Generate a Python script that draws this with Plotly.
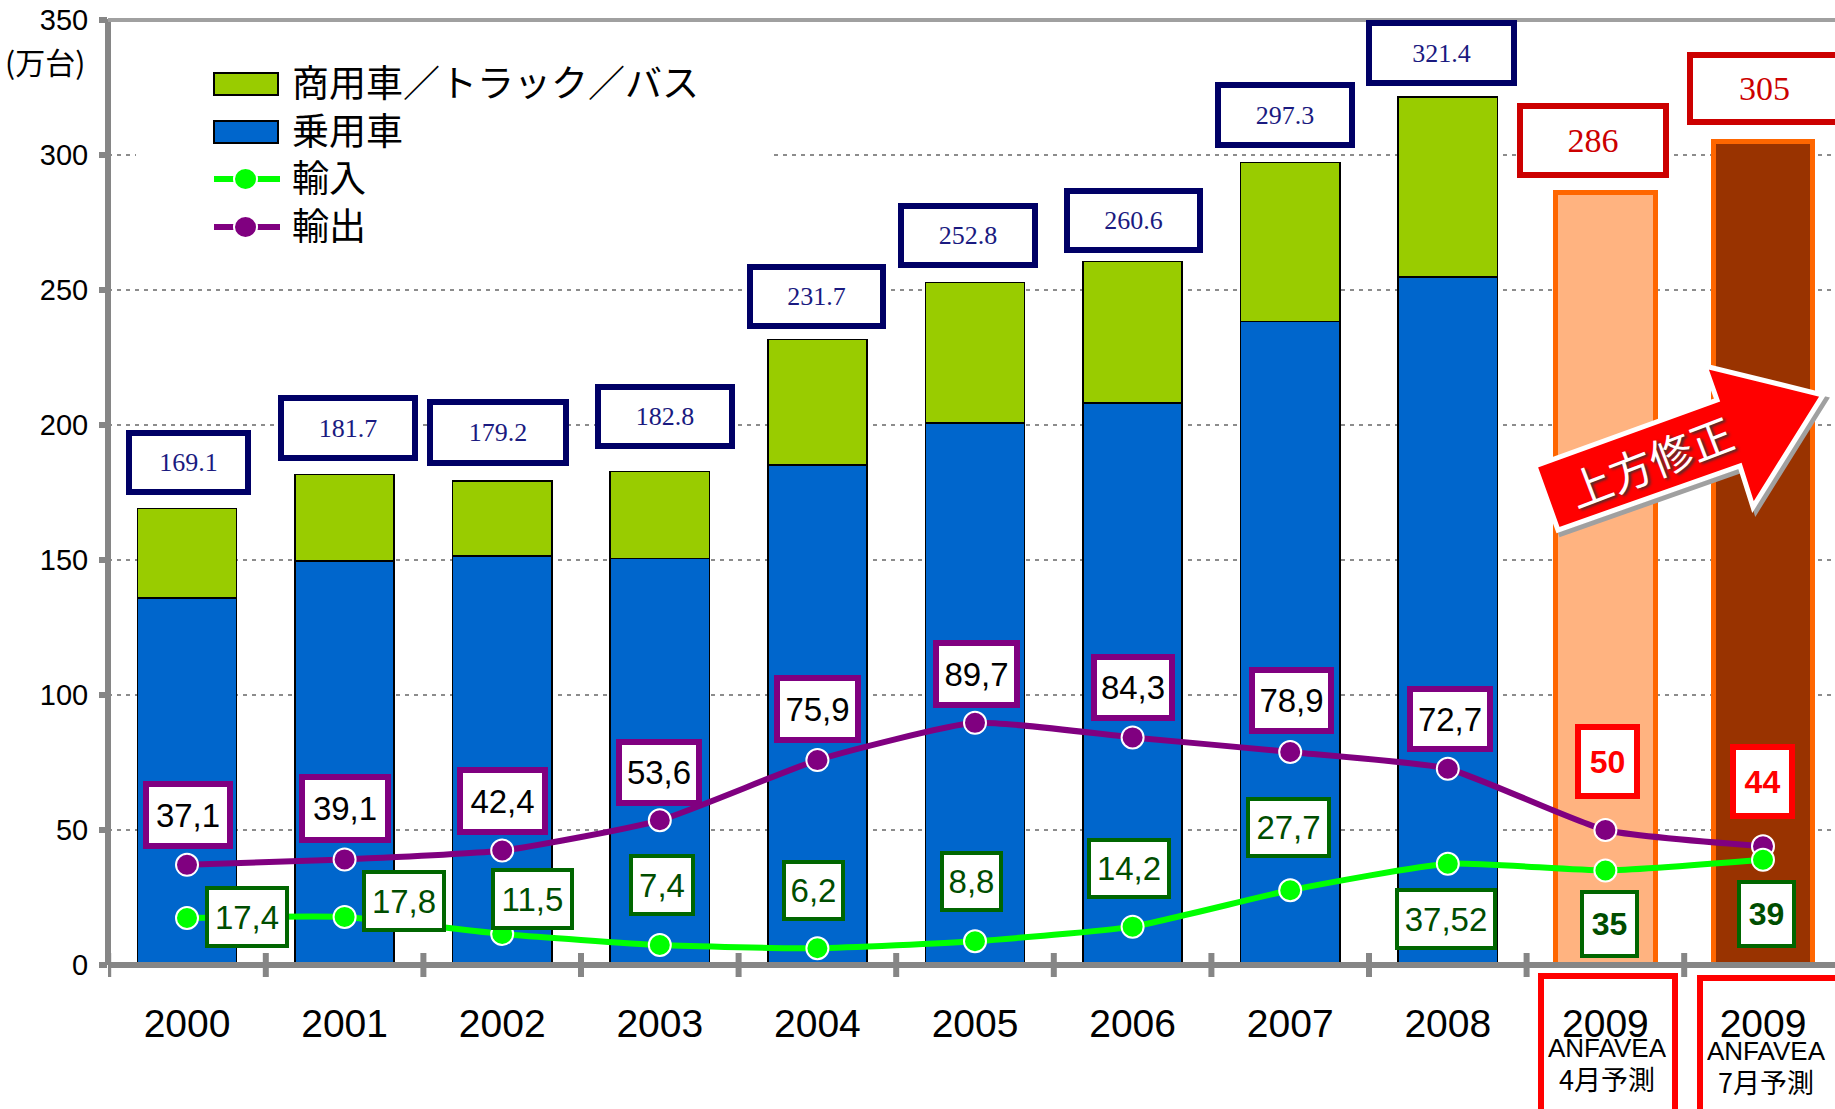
import plotly.graph_objects as go

# ---------- data ----------
categories = ["2000", "2001", "2002", "2003", "2004", "2005", "2006", "2007", "2008", "2009", "2009"]
commercial = [33.2, 32.0, 27.8, 32.2, 46.5, 52.0, 52.5, 58.9, 66.5]
passenger = [135.9, 149.7, 151.4, 150.6, 185.2, 200.8, 208.1, 238.4, 254.9]
forecast_april = [286]
forecast_july = [305]
imports = [17.4, 17.8, 11.5, 7.4, 6.2, 8.8, 14.2, 27.7, 37.52, 35, 39]
exports = [37.1, 39.1, 42.4, 53.6, 75.9, 89.7, 84.3, 78.9, 72.7, 50, 44]
total_labels = ["169.1", "181.7", "179.2", "182.8", "231.7", "252.8", "260.6", "297.3", "321.4"]
forecast_labels = ["286", "305"]
import_labels = ["17,4", "17,8", "11,5", "7,4", "6,2", "8,8", "14,2", "27,7", "37,52", "35", "39"]
export_labels = ["37,1", "39,1", "42,4", "53,6", "75,9", "89,7", "84,3", "78,9", "72,7", "50", "44"]
legend_labels = ["商用車／トラック／バス", "乗用車", "輸入", "輸出"]
unit_label = "(万台)"
arrow_label = "上方修正"
forecast_notes = ["ANFAVEA", "4月予測", "7月予測"]

# ---------- layout constants (pixels in the 1835x1109 page) ----------
W, H = 1835, 1109
L, T, B = 108, 20, 965
PW, PH = W - L, B - T
STEP = 157.6
C0 = 187
SANS = "Liberation Sans, Arial, sans-serif"
SERIF = "Liberation Serif, Times New Roman, serif"
CJK = "Noto Sans CJK JP, sans-serif"
GREY = "#868686"


def px(x):
    return (x - L) / PW


def py(y):
    return (B - y) / PH


total_boxes = [(126, 251, 430, 495), (278, 418, 395, 461), (427, 569, 399, 466), (595, 735, 384, 449),
               (747, 886, 264, 329), (898, 1038, 203, 268), (1064, 1203, 188, 253), (1215, 1355, 82, 148),
               (1366, 1517, 20, 86)]
forecast_boxes = [(1517, 1669, 103, 178), (1687, 1842, 52, 125)]
export_boxes = [(143, 233, 781, 849), (299, 391, 774, 843), (457, 548, 767, 835), (616, 702, 739, 806),
                (774, 861, 675, 743), (933, 1020, 640, 708), (1091, 1175, 654, 721), (1249, 1334, 667, 734),
                (1407, 1493, 686, 752), (1575, 1640, 724, 799), (1730, 1795, 744, 819)]
import_boxes = [(205, 289, 886, 948), (362, 446, 870, 932), (491, 574, 868, 930), (629, 695, 854, 916),
                (782, 845, 860, 921), (940, 1003, 851, 912), (1087, 1171, 838, 899), (1246, 1331, 797, 858),
                (1395, 1497, 888, 950), (1580, 1639, 890, 958), (1737, 1796, 880, 948)]

annotations = []


def box(b, text, border, color, size, bw=5, family=SANS, bold=False):
    x0, x1, y0, y1 = b
    annotations.append(dict(
        xref="paper", yref="paper", x=px((x0 + x1) / 2), y=py((y0 + y1) / 2),
        xanchor="center", yanchor="middle", align="center", valign="middle",
        width=x1 - x0 - 2 * bw, height=y1 - y0 - 2 * bw, borderpad=0, borderwidth=bw,
        bordercolor=border, bgcolor="white", showarrow=False,
        text=f"<b>{text}</b>" if bold else text,
        font=dict(family=family, size=size, color=color)))


def label(x, y, text, size, family=CJK, color="black", **kw):
    annotations.append(dict(xref="paper", yref="paper", x=px(x), y=py(y), xanchor=kw.pop("xanchor", "center"),
                            yanchor="middle", showarrow=False, text=text,
                            font=dict(family=family, size=size, color=color, **kw.pop("font", {})), **kw))


for b, t in zip(total_boxes, total_labels):
    box(b, t, "#000066", "#1A1A80", 26, bw=6, family=SERIF)
for b, t in zip(forecast_boxes, forecast_labels):
    box(b, t, "#CC0000", "#CC0000", 34, bw=6, family=SERIF)
for i, (b, t) in enumerate(zip(export_boxes, export_labels)):
    fc = i >= 9
    box(b, t, "#FF0000" if fc else "#800080", "#FF0000" if fc else "black", 32 if fc else 33, bw=6, bold=fc)
for i, (b, t) in enumerate(zip(import_boxes, import_labels)):
    fc = i >= 9
    box(b, t, "#006600", "#004D00", 32 if fc else 33, bw=4, bold=fc)

label(45, 61, unit_label, 30)
label(1607, 1048, forecast_notes[0], 26, family=SANS, height=26)
label(1607, 1078, forecast_notes[1], 27, height=30)
label(1766, 1051, forecast_notes[0], 26, family=SANS, height=26)
label(1766, 1081, forecast_notes[2], 27, height=30)
for y, t in zip([81, 129, 176, 224], legend_labels):
    label(290, y, t, 37, xanchor="left", height=44)
label(1650, 460, arrow_label, 43, color="white", textangle=-21, font=dict(shadow="2px 2px 3px #333333"))

# ---------- shapes ----------
shapes = [dict(type="rect", xref="x", yref="y", x0=(136 - C0) / STEP, x1=(770 - C0) / STEP, y0=280, y1=320,
               fillcolor="white", line_width=0, layer="between")]
for i in range(len(categories)):
    shapes.append(dict(type="line", xref="x", yref="paper", x0=i - 0.5, x1=i - 0.5, y0=py(953), y1=py(977),
                       line=dict(color=GREY, width=6), layer="above"))
shapes += [
    dict(type="line", xref="paper", yref="paper", x0=0, x1=1, y0=0, y1=0, line=dict(color=GREY, width=6), layer="above"),
    dict(type="line", xref="paper", yref="paper", x0=0, x1=0, y0=py(965), y1=py(19), line=dict(color=GREY, width=6), layer="above"),
    dict(type="line", xref="paper", yref="paper", x0=0, x1=1, y0=1, y1=1, line=dict(color="#A0A0A0", width=4), layer="above"),
]
for b in [(1541, 1675, 976, 1125), (1700, 1845, 978, 1125)]:
    shapes.append(dict(type="rect", xref="paper", yref="paper", x0=px(b[0]), x1=px(b[1]), y0=py(b[2]), y1=py(b[3]),
                       line=dict(color="#FF0000", width=6), fillcolor="rgba(0,0,0,0)", layer="above"))
# legend swatches
for y, c in zip([84, 132], ["#99CC00", "#0066CC"]):
    shapes.append(dict(type="rect", xref="paper", yref="paper", x0=px(214), x1=px(278), y0=py(y - 11), y1=py(y + 11),
                       fillcolor=c, line=dict(color="black", width=2), layer="above"))
for y, c in zip([179, 227], ["#00FF00", "#800080"]):
    shapes.append(dict(type="line", xref="paper", yref="paper", x0=px(214), x1=px(280), y0=py(y), y1=py(y),
                       line=dict(color=c, width=6), layer="above"))
    shapes.append(dict(type="circle", xref="paper", yref="paper", x0=px(234), x1=px(257), y0=py(y - 11), y1=py(y + 11),
                       fillcolor=c, line=dict(color="white", width=2), layer="above"))

# arrow outline
arrow = [(1535, 466), (1558, 530), (1740, 466), (1753, 507), (1823, 395), (1705, 366), (1717, 400)]


def path(points, dx=0, dy=0):
    return "M" + " L".join(f"{px(x + dx):.5f},{py(y + dy):.5f}" for x, y in points) + " Z"


shapes.append(dict(type="path", xref="paper", yref="paper", path=path(arrow, 3, 4), fillcolor="#808080",
                   line=dict(color="#A0A0A0", width=5), layer="above"))
shapes.append(dict(type="path", xref="paper", yref="paper", path=path(arrow), fillcolor="#FF0000",
                   line=dict(color="white", width=5), layer="above"))

# ---------- traces ----------
xs = list(range(len(categories)))
BAR_W = 0.63
fig = go.Figure()
fig.add_bar(x=xs[:9], y=passenger, name=legend_labels[1], width=BAR_W, marker=dict(color="#0066CC", line=dict(color="black", width=1.5)))
fig.add_bar(x=xs[:9], y=commercial, name=legend_labels[0], width=BAR_W, marker=dict(color="#99CC00", line=dict(color="black", width=1.5)))
fig.add_bar(x=[9], y=forecast_april, name="4月予測", width=BAR_W, marker=dict(color="#FFB380", line=dict(color="#FF6600", width=5)))
fig.add_bar(x=[10], y=forecast_july, name="7月予測", width=BAR_W, marker=dict(color="#993300", line=dict(color="#FF6600", width=5)))
fig.add_scatter(x=xs, y=exports, name=legend_labels[3], mode="lines+markers", cliponaxis=False,
                line=dict(color="#800080", width=6, shape="spline", smoothing=0.5),
                marker=dict(color="#800080", size=22, line=dict(color="white", width=2)))
fig.add_scatter(x=xs, y=imports, name=legend_labels[2], mode="lines+markers", cliponaxis=False,
                line=dict(color="#00FF00", width=6, shape="spline", smoothing=0.5),
                marker=dict(color="#00FF00", size=22, line=dict(color="white", width=2)))

fig.update_layout(
    width=W, height=H, autosize=False, barmode="stack", showlegend=False, hovermode=False,
    margin=dict(l=L, r=0, t=T, b=H - B, pad=0),
    paper_bgcolor="white", plot_bgcolor="white",
    annotations=annotations, shapes=shapes,
    xaxis=dict(range=[(L - C0) / STEP, (W - C0) / STEP], tickmode="array", tickvals=xs, ticktext=categories,
               ticks="", showgrid=False, zeroline=False, showline=False, ticklabelstandoff=32,
               tickfont=dict(family=SANS, size=39, color="black"), tickangle=0),
    yaxis=dict(range=[0, 350], dtick=50, ticks="outside", ticklen=8, tickwidth=6, tickcolor=GREY,
               showline=False, zeroline=False, showgrid=True, gridcolor="#8C8C8C", gridwidth=1.5,
               griddash="4px,5px", ticklabelstandoff=5,
               tickfont=dict(family=SANS, size=29, color="black")),
)
fig.write_html("out.html", config=dict(displayModeBar=False),
               post_script="document.body.style.margin='0';document.body.style.overflow='hidden';")
